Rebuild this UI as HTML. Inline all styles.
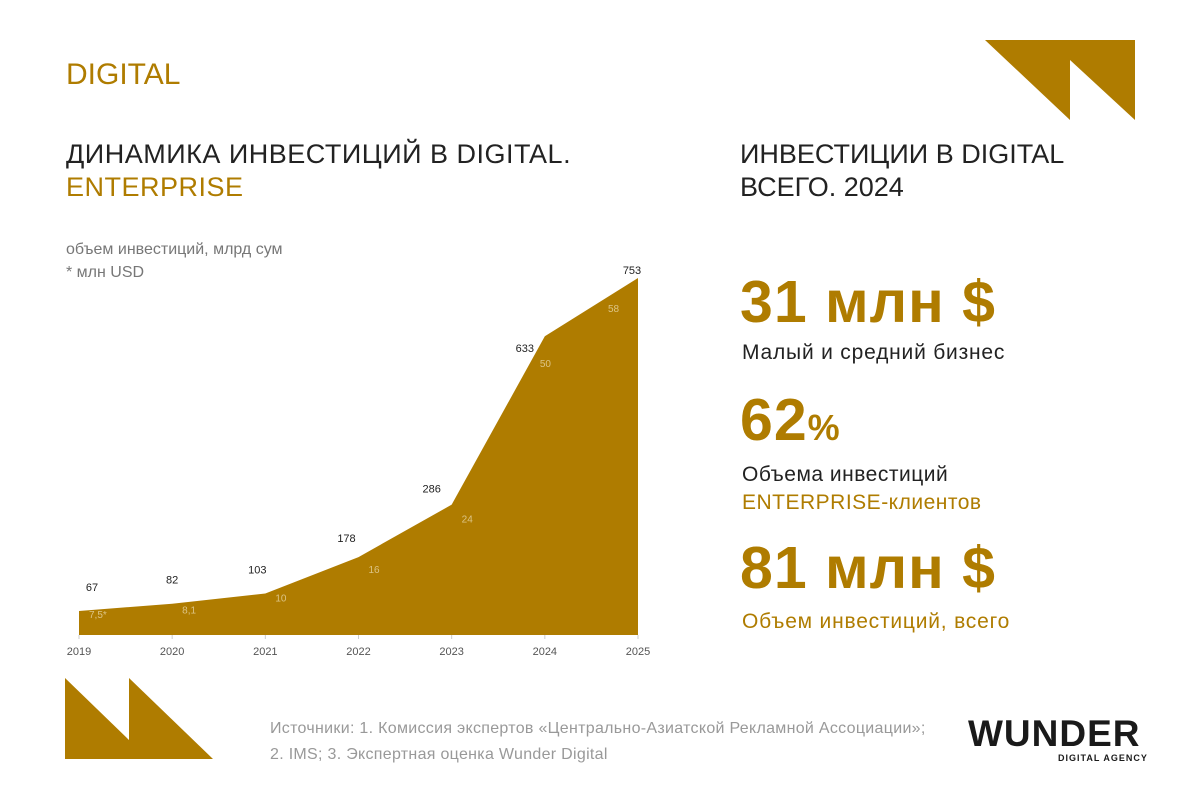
<!DOCTYPE html>
<html><head><meta charset="utf-8"><style>
body{margin:0;width:1200px;height:800px;background:#fff;overflow:hidden;position:relative;font-family:"Liberation Sans",sans-serif;}
.t{position:absolute;white-space:nowrap;}
.g{color:#AF7C00}
</style></head><body>
<div class="t g" style="left:66px;top:58px;font-size:30px;">DIGITAL</div>
<div class="t" style="left:66px;top:138px;font-size:27px;color:#222;line-height:33px;letter-spacing:0.5px;">ДИНАМИКА ИНВЕСТИЦИЙ В DIGITAL.<br><span class="g">ENTERPRISE</span></div>
<div class="t" style="left:66px;top:238px;font-size:16px;color:#777;line-height:23px;">объем инвестиций, млрд сум<br>* млн USD</div>
<div class="t" style="left:740px;top:138px;font-size:27px;color:#222;line-height:33px;">ИНВЕСТИЦИИ В DIGITAL<br>ВСЕГО. 2024</div>
<div class="t g" style="left:740px;top:268px;font-size:59px;font-weight:bold;letter-spacing:1px;">31 млн $</div>
<div class="t" style="left:742px;top:341px;font-size:21px;color:#222;letter-spacing:0.8px;">Малый и средний бизнес</div>
<div class="t g" style="left:740px;top:386px;font-size:59px;font-weight:bold;letter-spacing:1px;">62<span style="font-size:36px">%</span></div>
<div class="t" style="left:742px;top:461px;font-size:21px;color:#222;line-height:28px;letter-spacing:0.5px;">Объема инвестиций<br><span class="g">ENTERPRISE-клиентов</span></div>
<div class="t g" style="left:740px;top:534px;font-size:59px;font-weight:bold;letter-spacing:1px;">81 млн $</div>
<div class="t g" style="left:742px;top:610px;font-size:21px;letter-spacing:0.8px;">Объем инвестиций, всего</div>
<div class="t" style="left:270px;top:716px;font-size:16px;color:#999;line-height:26px;letter-spacing:0.3px;">Источники: 1. Комиссия экспертов «Центрально-Азиатской Рекламной Ассоциации»;<br>2. IMS; 3. Экспертная оценка Wunder Digital</div>
<div class="t" style="left:968px;top:716px;font-size:37px;font-weight:bold;letter-spacing:1px;color:#1a1a1a;line-height:36px;">WUNDER</div>
<div class="t" style="left:1058px;top:753px;font-size:9px;font-weight:bold;letter-spacing:1px;color:#1a1a1a;">DIGITAL AGENCY</div>
<svg width="1200" height="800" style="position:absolute;left:0;top:0" id="svg">
<polygon points="985,40 1135,40 1135,120 1070,60 1070,120" fill="#AF7C00"/>
<polygon points="65,678 129,740 129,678 213,759 65,759" fill="#AF7C00"/>
<g id="chart"></g>
</svg>
<script>
const years=["2019","2020","2021","2022","2023","2024","2025"];
const sumValues=[67,82,103,178,286,633,753];
const usdLabels=["7,5*","8,1","10","16","24","50","58"];
const x0=79,x1=638,base=635,vmin=17.5,k=0.4854;
const xs=i=>x0+(x1-x0)*i/(years.length-1);
const ys=v=>base-(v-vmin)*k;
const g=document.getElementById('chart');
const NS='http://www.w3.org/2000/svg';
function mk(t,a){const e=document.createElementNS(NS,t);for(const n in a)e.setAttribute(n,a[n]);g.appendChild(e);return e;}
let pts=`${xs(0)},${base} `+sumValues.map((v,i)=>`${xs(i)},${ys(v)}`).join(' ')+` ${xs(years.length-1)},${base}`;
const area=mk('polygon',{points:pts,fill:'#AF7C00'});


const sdx=[13,0,-8,-12,-20,-20,-6];
const sdy=[-20,-20,-20,-15,-12,16,-4];
const udx=[10,10,10,10,10,-5,-30];
const udy=[7,10,8,16,18,31,34];
years.forEach((y,i)=>{
 const tk=mk('line',{x1:xs(i),x2:xs(i),y1:base,y2:base+4,stroke:'#ccc'});
 
 
 const t=mk('text',{x:xs(i),y:base+20,'text-anchor':'middle','font-size':11,fill:'#555','font-family':'Liberation Sans'});
 t.textContent=y;
 
 
 const v=sumValues[i];
 const dl=mk('text',{x:xs(i)+sdx[i],y:ys(v)+sdy[i],'text-anchor':'middle','font-size':11,fill:'#222','font-family':'Liberation Sans'});
 dl.textContent=v;
 
 
 const ul=mk('text',{x:xs(i)+udx[i],y:ys(v)+udy[i],'text-anchor':'start','font-size':10,fill:'#dcc485','font-family':'Liberation Sans'});
 ul.textContent=usdLabels[i];
 
 
});
</script>
</body></html>
